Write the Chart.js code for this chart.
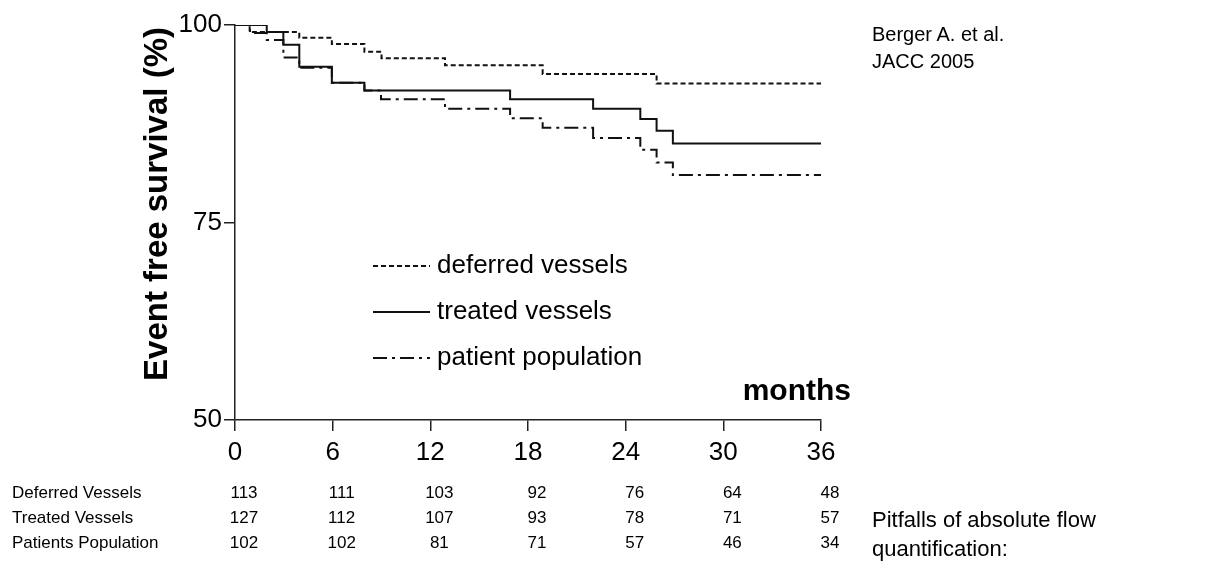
<!DOCTYPE html>
<html>
<head>
<meta charset="utf-8">
<script src="https://cdn.jsdelivr.net/npm/chart.js@4.4.1/dist/chart.umd.min.js"></script>
<style>
  html, body { margin: 0; padding: 0; background: #fff; }
  #wrap { position: relative; width: 1206px; height: 567px; overflow: hidden; }
  canvas { position: absolute; left: 0; top: 0; }
  .note { position: absolute; left: 872px; font-family: "Liberation Sans", Arial, sans-serif; color: #000; }
</style>
</head>
<body>
<div id="wrap">
  <canvas id="km" width="1206" height="567"></canvas>
  <div class="note" style="top:21px;font-size:20px;line-height:27px;">Berger A. et al.<br>JACC 2005</div>
  <div class="note" style="top:505px;font-size:22px;line-height:29px;">Pitfalls of absolute flow<br>quantification:</div>
</div>
<script>
// x ticks (months) and numbers at risk
const months = [0, 6, 12, 18, 24, 30, 36]
const riskLabels = ['Deferred Vessels', 'Treated Vessels', 'Patients Population']
const riskDeferred = [113, 111, 103, 92, 76, 64, 48]
const riskTreated = [127, 112, 107, 93, 78, 71, 57]
const riskPatients = [102, 102, 81, 71, 57, 46, 34]

// Kaplan-Meier steps: time of event (months) and survival after it (%)
const deferredT = [0, 0.9, 3.95, 5.95, 7.95, 9.0, 12.9, 18.9, 25.9, 36]
const deferredS = [100, 99.1, 98.4, 97.6, 96.6, 95.8, 94.9, 93.8, 92.6, 92.6]
const treatedT = [0, 1.95, 2.97, 3.95, 5.95, 7.95, 16.9, 22.0, 24.9, 25.9, 26.9, 36]
const treatedS = [100, 99.1, 97.5, 94.7, 92.7, 91.7, 90.6, 89.4, 88.1, 86.6, 85.0, 85.0]
const patientsT = [0, 0.92, 1.95, 2.97, 3.95, 5.95, 7.95, 8.97, 12.9, 16.9, 18.9, 22.0, 24.9, 25.9, 26.9, 36]
const patientsS = [100, 99.0, 98.1, 95.9, 94.6, 92.7, 91.7, 90.6, 89.4, 88.2, 87.0, 85.7, 84.2, 82.6, 81.0, 81.0]

const seriesNames = ['deferred vessels', 'treated vessels', 'patient population']

const toPts = (t, s) => t.map((v, i) => ({ x: v, y: s[i] }))
const FONT = '"Liberation Sans", Arial, sans-serif'
const INK = '#111'

const extras = {
  id: 'extras',
  afterDraw(chart) {
    const ctx = chart.ctx
    const xs = chart.scales.x
    ctx.save()
    ctx.fillStyle = '#000'

    // y axis title
    ctx.save()
    ctx.translate(158, 204)
    ctx.rotate(-Math.PI / 2)
    ctx.font = 'bold 33px ' + FONT
    ctx.textAlign = 'center'
    ctx.textBaseline = 'middle'
    ctx.fillText('Event free survival (%)', 0, 0)
    ctx.restore()

    // months label
    ctx.font = 'bold 30px ' + FONT
    ctx.textAlign = 'right'
    ctx.textBaseline = 'middle'
    ctx.fillText('months', 851, 392)

    // legend inside the plot
    ctx.font = '26px ' + FONT
    ctx.textAlign = 'left'
    chart.data.datasets.forEach((ds, i) => {
      const y = 266 + i * 46
      ctx.beginPath()
      ctx.setLineDash(ds.borderDash || [])
      ctx.lineWidth = 2
      ctx.strokeStyle = INK
      ctx.moveTo(373, y)
      ctx.lineTo(430, y)
      ctx.stroke()
      ctx.setLineDash([])
      ctx.fillText(ds.label, 437, y)
    })

    // numbers at risk
    const rows = [riskDeferred, riskTreated, riskPatients]
    ctx.font = '17px ' + FONT
    rows.forEach((row, r) => {
      const y = 493 + r * 25
      ctx.textAlign = 'left'
      ctx.fillText(riskLabels[r], 12, y)
      ctx.textAlign = 'center'
      row.forEach((n, c) => ctx.fillText(String(n), xs.getPixelForValue(months[c]) + 9, y))
    })
    ctx.restore()
  },
}

const axisGrid = { display: true, drawOnChartArea: false, drawTicks: true, tickLength: 11, color: '#222', lineWidth: 1.5 }

new Chart(document.getElementById('km').getContext('2d'), {
  type: 'line',
  data: {
    datasets: [
      { label: seriesNames[0], data: toPts(deferredT, deferredS), borderDash: [5, 3] },
      { label: seriesNames[1], data: toPts(treatedT, treatedS), borderDash: [] },
      { label: seriesNames[2], data: toPts(patientsT, patientsS), borderDash: [14, 5, 3, 5] },
    ].map((d) => ({ ...d, stepped: true, borderColor: INK, borderWidth: 2, pointRadius: 0, fill: false })),
  },
  options: {
    responsive: false,
    animation: false,
    layout: { padding: { left: 0, top: 25, right: 385, bottom: 97 } },
    plugins: { legend: { display: false }, tooltip: { enabled: false } },
    scales: {
      x: {
        type: 'linear',
        min: 0,
        max: 36,
        afterBuildTicks: (s) => { s.ticks = months.map((v) => ({ value: v })) },
        afterFit: (s) => { s.height = 50 },
        grid: axisGrid,
        border: { display: true, color: '#222', width: 1.5 },
        ticks: { color: '#000', font: { family: FONT, size: 26 }, padding: 6 },
      },
      y: {
        min: 50,
        max: 100,
        afterBuildTicks: (s) => { s.ticks = [50, 75, 100].map((v) => ({ value: v })) },
        afterFit: (s) => { s.width = 235 },
        grid: axisGrid,
        border: { display: true, color: '#222', width: 1.5 },
        ticks: { color: '#000', font: { family: FONT, size: 26 }, padding: 2 },
      },
    },
  },
  plugins: [extras],
})
</script>
</body>
</html>
